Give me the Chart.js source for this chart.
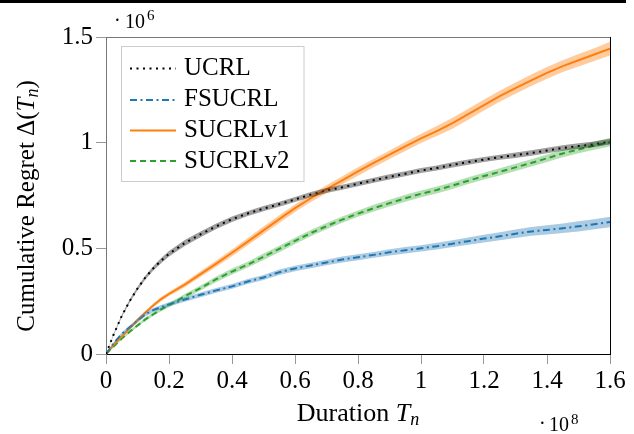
<!DOCTYPE html>
<html>
<head>
<meta charset="utf-8">
<script src="https://cdn.jsdelivr.net/npm/chart.js@4/dist/chart.umd.min.js"></script>
<style>
  html, body { margin: 0; padding: 0; background: #fff; }
  #wrap { width: 634px; height: 434px; position: relative; }
</style>
</head>
<body>
<div id="wrap"><canvas id="c" width="634" height="434"></canvas></div>
<script>
// Duration T_n (x 1e8)
const durations = [0, 0.025, 0.05, 0.075, 0.1, 0.125, 0.15, 0.175, 0.2,
  0.25, 0.3, 0.35, 0.4, 0.45, 0.5, 0.55, 0.6, 0.65, 0.7, 0.75, 0.8, 0.85, 0.9, 0.95,
  1.0, 1.05, 1.1, 1.15, 1.2, 1.25, 1.3, 1.35, 1.4, 1.45, 1.5, 1.55, 1.6];

// Cumulative regret (x 1e6)
const ucrl = [0, 0.095, 0.180, 0.250, 0.310, 0.362, 0.405, 0.442, 0.474,
  0.525, 0.566, 0.604, 0.638, 0.665, 0.688, 0.709, 0.731, 0.754, 0.774, 0.789, 0.806, 0.822, 0.838, 0.853,
  0.868, 0.880, 0.895, 0.908, 0.920, 0.931, 0.941, 0.951, 0.963, 0.975, 0.984, 0.992, 1.005];
const fsucrl = [0, 0.052, 0.095, 0.126, 0.158, 0.188, 0.208, 0.222, 0.235,
  0.258, 0.280, 0.301, 0.320, 0.343, 0.362, 0.387, 0.405, 0.419, 0.433, 0.447, 0.458, 0.469, 0.481, 0.491,
  0.500, 0.510, 0.522, 0.534, 0.546, 0.557, 0.569, 0.580, 0.587, 0.595, 0.604, 0.614, 0.625];
const sucrlv1 = [0, 0.045, 0.082, 0.122, 0.160, 0.197, 0.230, 0.260, 0.284,
  0.328, 0.378, 0.428, 0.479, 0.532, 0.585, 0.638, 0.690, 0.737, 0.780, 0.822, 0.864, 0.904, 0.943, 0.982,
  1.020, 1.055, 1.092, 1.135, 1.178, 1.220, 1.258, 1.295, 1.330, 1.362, 1.390, 1.417, 1.445];
const sucrlv2 = [0, 0.036, 0.073, 0.105, 0.135, 0.164, 0.188, 0.211, 0.231,
  0.273, 0.312, 0.354, 0.390, 0.423, 0.460, 0.497, 0.535, 0.572, 0.605, 0.636, 0.664, 0.690, 0.714, 0.737,
  0.758, 0.776, 0.797, 0.820, 0.842, 0.862, 0.883, 0.904, 0.926, 0.949, 0.968, 0.986, 1.002];

// Half-width of the shaded bands (x 1e6)
const ucrlSpread = [0, 0.004, 0.006, 0.008, 0.008, 0.009, 0.010, 0.012, 0.013,
  0.014, 0.014, 0.013, 0.013, 0.012, 0.012, 0.012, 0.012, 0.012, 0.012, 0.012, 0.012, 0.012, 0.012, 0.012,
  0.012, 0.012, 0.012, 0.012, 0.012, 0.012, 0.013, 0.013, 0.013, 0.013, 0.013, 0.013, 0.014];
const fsucrlSpread = [0, 0.006, 0.008, 0.009, 0.010, 0.010, 0.010, 0.010, 0.010,
  0.011, 0.011, 0.011, 0.011, 0.012, 0.012, 0.013, 0.013, 0.013, 0.013, 0.014, 0.014, 0.014, 0.015, 0.015,
  0.015, 0.016, 0.016, 0.017, 0.018, 0.019, 0.020, 0.021, 0.022, 0.023, 0.024, 0.024, 0.025];
const sucrlv1Spread = [0, 0.004, 0.006, 0.007, 0.008, 0.008, 0.009, 0.010, 0.010,
  0.012, 0.014, 0.015, 0.016, 0.017, 0.018, 0.018, 0.018, 0.018, 0.019, 0.019, 0.020, 0.020, 0.020, 0.021,
  0.022, 0.024, 0.026, 0.026, 0.026, 0.026, 0.027, 0.027, 0.028, 0.028, 0.029, 0.030, 0.032];
const sucrlv2Spread = [0, 0.004, 0.005, 0.006, 0.007, 0.008, 0.008, 0.009, 0.010,
  0.011, 0.012, 0.013, 0.014, 0.014, 0.015, 0.015, 0.015, 0.015, 0.015, 0.015, 0.015, 0.016, 0.016, 0.016,
  0.016, 0.016, 0.016, 0.016, 0.016, 0.017, 0.017, 0.017, 0.018, 0.018, 0.018, 0.019, 0.020];

const xTicks = [0, 0.2, 0.4, 0.6, 0.8, 1, 1.2, 1.4, 1.6];
const yTicks = [0, 0.5, 1, 1.5];
const seriesNames = ['UCRL', 'FSUCRL', 'SUCRLv1', 'SUCRLv2'];

const FONT = "'Liberation Serif', 'Times New Roman', serif";

const series = [
  { name: seriesNames[0], vals: ucrl, spread: ucrlSpread, color: '#000000', band: 'rgba(0,0,0,0.38)', dash: [2, 4.5] },
  { name: seriesNames[1], vals: fsucrl, spread: fsucrlSpread, color: '#1f77b4', band: 'rgba(31,119,180,0.38)', dash: [7, 3.5, 2, 3.5] },
  { name: seriesNames[2], vals: sucrlv1, spread: sucrlv1Spread, color: '#ff7f0e', band: 'rgba(255,127,14,0.4)', dash: [] },
  { name: seriesNames[3], vals: sucrlv2, spread: sucrlv2Spread, color: '#2ca02c', band: 'rgba(44,160,44,0.35)', dash: [6, 4] },
];

const datasets = [];
series.forEach(s => {
  datasets.push({
    label: s.name + ' upper',
    data: durations.map((x, i) => ({ x, y: s.vals[i] + s.spread[i] })),
    borderWidth: 0, pointRadius: 0, fill: '+1', backgroundColor: s.band, borderColor: 'rgba(0,0,0,0)'
  });
  datasets.push({
    label: s.name + ' lower',
    data: durations.map((x, i) => ({ x, y: Math.max(0, s.vals[i] - s.spread[i]) })),
    borderWidth: 0, pointRadius: 0, fill: false, borderColor: 'rgba(0,0,0,0)'
  });
});
series.forEach(s => {
  datasets.push({
    label: s.name,
    data: durations.map((x, i) => ({ x, y: s.vals[i] })),
    borderColor: s.color, borderWidth: 2, borderDash: s.dash, borderCapStyle: 'butt',
    pointRadius: 0, fill: false, tension: 0
  });
});

function drawRich(ctx, segs, x, y, align) {
  let total = 0;
  segs.forEach(s => { ctx.font = s.font; total += ctx.measureText(s.text).width; });
  let cx = align === 'center' ? x - total / 2 : x;
  segs.forEach(s => {
    ctx.font = s.font;
    ctx.fillText(s.text, cx, y + (s.dy || 0));
    cx += ctx.measureText(s.text).width;
  });
}

const decorations = {
  id: 'decorations',
  beforeDraw(chart) {
    const ctx = chart.ctx;
    ctx.save();
    ctx.fillStyle = '#fff';
    ctx.fillRect(0, 0, chart.width, chart.height);
    ctx.restore();
  },
  afterDraw(chart) {
    const ctx = chart.ctx;
    const a = chart.chartArea;
    ctx.save();
    // top black bar
    ctx.fillStyle = '#000';
    ctx.fillRect(0, 0, 626, 3);
    // top and right border
    ctx.lineWidth = 1;
    ctx.strokeStyle = '#777';
    ctx.beginPath(); ctx.moveTo(a.left, a.top + 0.5); ctx.lineTo(a.right, a.top + 0.5); ctx.stroke();
    ctx.strokeStyle = '#000';
    ctx.beginPath(); ctx.moveTo(a.right + 0.5, a.top); ctx.lineTo(a.right + 0.5, a.bottom); ctx.stroke();

    // legend
    ctx.fillStyle = '#fff';
    ctx.fillRect(122, 47, 182, 135);
    ctx.strokeStyle = '#cccccc';
    ctx.lineWidth = 1;
    ctx.strokeRect(121.5, 46.5, 182.5, 135);
    const lineYs = [68.5, 100, 130.5, 161];
    const textYs = [74.5, 106, 137, 167.5];
    series.forEach((s, i) => {
      ctx.strokeStyle = s.color;
      ctx.lineWidth = 2;
      ctx.setLineDash(s.dash);
      ctx.lineCap = 'butt';
      ctx.beginPath(); ctx.moveTo(130, lineYs[i]); ctx.lineTo(176, lineYs[i]); ctx.stroke();
      ctx.setLineDash([]);
      ctx.fillStyle = '#000';
      ctx.font = '25px ' + FONT;
      ctx.textAlign = 'left';
      ctx.textBaseline = 'alphabetic';
      ctx.fillText(s.name, 184, textYs[i]);
    });

    ctx.fillStyle = '#000';
    ctx.textBaseline = 'alphabetic';
    ctx.textAlign = 'left';
    // x axis title
    drawRich(ctx, [
      { text: 'Duration ', font: '26px ' + FONT },
      { text: 'T', font: 'italic 26px ' + FONT },
      { text: 'n', font: 'italic 18px ' + FONT, dy: 4 }
    ], (a.left + a.right) / 2, 421, 'center');
    // y axis title
    ctx.save();
    ctx.translate(34, 206);
    ctx.rotate(-Math.PI / 2);
    drawRich(ctx, [
      { text: 'Cumulative Regret \u0394(', font: '25px ' + FONT },
      { text: 'T', font: 'italic 25px ' + FONT },
      { text: 'n', font: 'italic 18px ' + FONT, dy: 4 },
      { text: ')', font: '25px ' + FONT }
    ], 0, 0, 'center');
    ctx.restore();
    // exponents
    ctx.font = '20px ' + FONT;
    ctx.fillText('\u00b7', 114, 27);
    ctx.fillText('10', 125, 28);
    ctx.font = '15px ' + FONT;
    ctx.fillText('6', 147, 20);
    ctx.font = '20px ' + FONT;
    ctx.fillText('\u00b7', 539, 430);
    ctx.fillText('10', 549, 431);
    ctx.font = '15px ' + FONT;
    ctx.fillText('8', 571, 424);
    ctx.restore();
  }
};

new Chart(document.getElementById('c'), {
  type: 'line',
  data: { datasets },
  options: {
    responsive: false,
    animation: false,
    devicePixelRatio: 1,
    layout: { padding: { left: 0, right: 24, top: 37, bottom: 0 } },
    plugins: { legend: { display: false }, tooltip: { enabled: false } },
    elements: { line: { tension: 0 } },
    scales: {
      x: {
        type: 'linear', min: 0, max: 1.6,
        afterFit(scale) { scale.height = 80; },
        afterBuildTicks(scale) { scale.ticks = xTicks.map(v => ({ value: v })); },
        ticks: {
          font: { family: FONT, size: 25 }, color: '#000', padding: 2, maxRotation: 0,
          callback: v => String(Math.round(v * 10) / 10)
        },
        grid: { drawOnChartArea: false, drawTicks: true, tickLength: 10, color: '#999' },
        border: { display: true, color: '#000', width: 1 }
      },
      y: {
        type: 'linear', min: 0, max: 1.5,
        afterFit(scale) { scale.width = 106; },
        afterBuildTicks(scale) { scale.ticks = yTicks.map(v => ({ value: v })); },
        ticks: {
          font: { family: FONT, size: 25 }, color: '#000', padding: 3,
          callback: v => String(Math.round(v * 10) / 10)
        },
        grid: { drawOnChartArea: false, drawTicks: true, tickLength: 10, color: '#999' },
        border: { display: true, color: '#777', width: 1 }
      }
    }
  },
  plugins: [decorations]
});
</script>
</body>
</html>
